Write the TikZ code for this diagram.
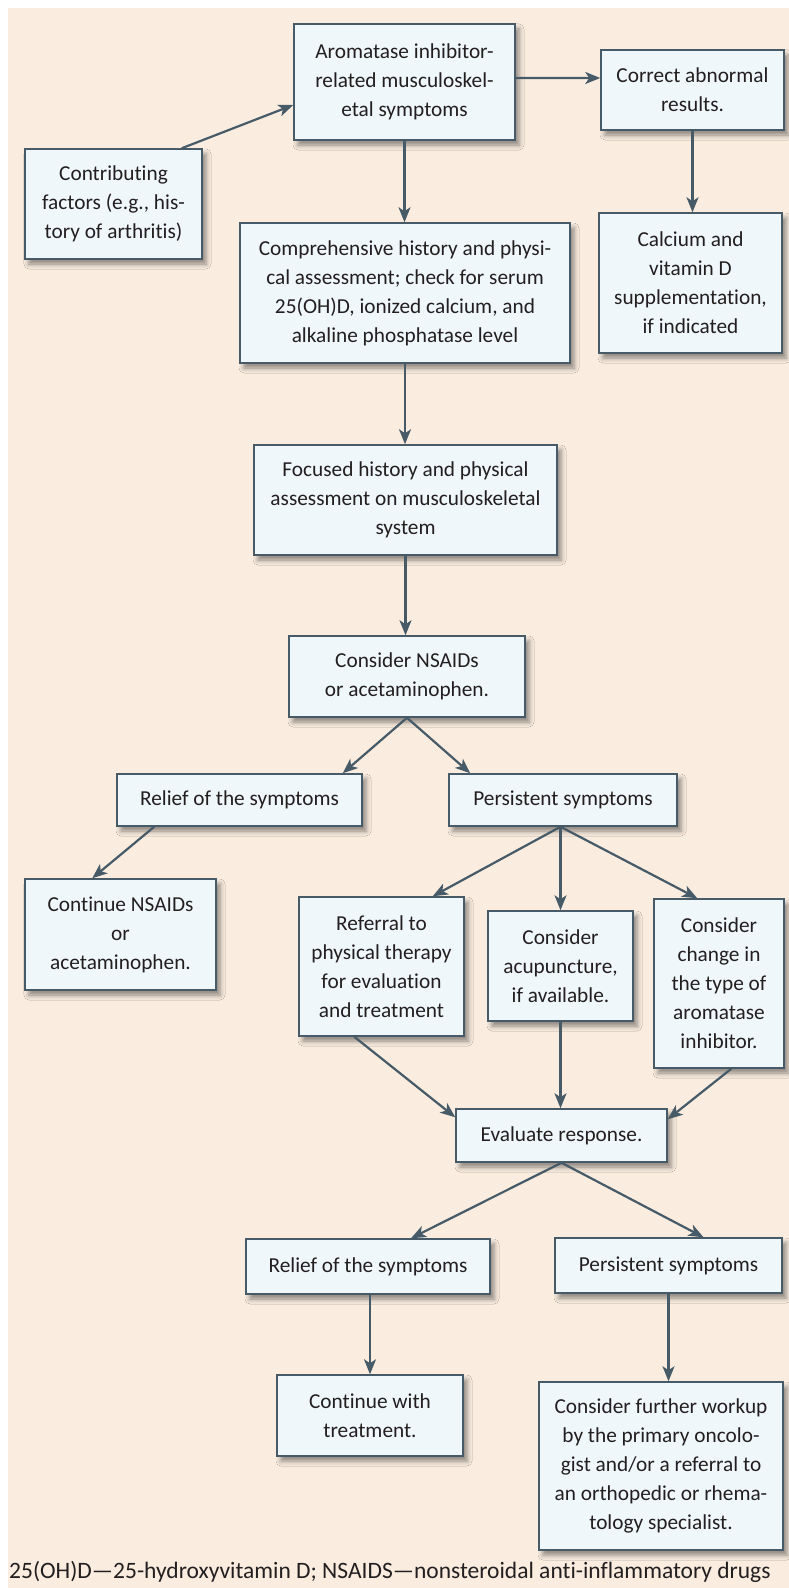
\documentclass[tikz,border=0pt]{standalone}
\usepackage{fontspec}
\setmainfont{Carlito}[Ligatures={TeX,NoCommon}]
\usetikzlibrary{arrows.meta,shadows.blur}
\definecolor{paper}{HTML}{FAEDE0}
\definecolor{boxfill}{HTML}{EFF7FB}
\definecolor{slate}{HTML}{475A67}
\definecolor{ink}{HTML}{231F20}
\begin{document}
\begin{tikzpicture}[x=1bp, y=-1bp, >={Stealth[length=15bp,width=12bp,inset=4bp]},
  txt/.style={font=\fontsize{21.3bp}{29bp}\selectfont, text=ink},
  box/.style={txt, draw=slate, line width=1.5bp, fill=boxfill, align=center, inner sep=0pt,
    blur shadow={shadow xshift=4bp, shadow yshift=-5bp, shadow blur radius=5bp, shadow opacity=45}},
  wh/.style 2 args={minimum width=#1bp, minimum height=#2bp},
  arr/.style={->, draw=slate, line width=2.2bp}]

 \useasboundingbox (0,0) rectangle (789,1588);
 \fill[paper] (8,8) rectangle (789,1588);

 \node[box, wh={221}{116}] (aroma) at (404.5,82) {Aromatase inhibitor-\\related musculoskel-\\etal symptoms};
 \node[box, wh={183}{80}] (correct) at (692.5,90) {Correct abnormal\\results.};
 \node[box, wh={183}{140}] (calcium) at (690.5,283) {Calcium and\\vitamin D\\supplementation,\\if indicated};
 \node[box, wh={177}{110}] (factors) at (113.5,204) {Contributing\\factors (e.g., his-\\tory of arthritis)};
 \node[box, wh={330}{140}] (history) at (405,293) {Comprehensive history and physi-\\cal assessment; check for serum\\25(OH)D, ionized calcium, and\\alkaline phosphatase level};
 \node[box, wh={303}{110}] (focused) at (405.5,500) {Focused history and physical\\assessment on musculoskeletal\\system};
 \node[box, wh={236}{81}] (nsaid) at (407,676.5) {Consider NSAIDs\\or acetaminophen.};
 \node[box, wh={245}{52}] (relief) at (239.5,800) {Relief of the symptoms};
 \node[box, wh={228}{52}] (persist) at (563,800) {Persistent symptoms};
 \node[box, wh={191}{111}] (keepnsaid) at (120.5,934.5) {Continue NSAIDs\\or\\acetaminophen.};
 \node[box, wh={165}{139}] (physio) at (381.5,966.5) {Referral to\\physical therapy\\for evaluation\\and treatment};
 \node[box, wh={145}{110}] (acu) at (560.5,966) {Consider\\acupuncture,\\if available.};
 \node[box, wh={130}{169}] (switch) at (719,983.5) {Consider\\change in\\the type of\\aromatase\\inhibitor.};
 \node[box, wh={211}{53}] (evaluate) at (561.5,1135.5) {Evaluate response.};
 \node[box, wh={244}{55}] (relieftwo) at (368,1266.5) {Relief of the symptoms};
 \node[box, wh={227}{55}] (persisttwo) at (668.5,1265.5) {Persistent symptoms};
 \node[box, wh={186}{81}] (keeptreat) at (370,1415.5) {Continue with\\treatment.};
 \node[box, wh={244}{168}] (workup) at (661,1466) {Consider further workup\\by the primary oncolo-\\gist and/or a referral to\\an orthopedic or rhema-\\tology specialist.};

 \node[txt, font=\fontsize{23.5bp}{29bp}\selectfont, anchor=west, inner sep=0pt] (abbrev) at (9,1572) {25(OH)D---25-hydroxyvitamin D; NSAIDS---nonsteroidal anti-inflammatory drugs};

 \draw[arr] ([xshift=-21bp]factors.north east) -- ([yshift=-23bp]aroma.west);
 \draw[arr] ([yshift=4bp]aroma.east) -- ([yshift=12bp]correct.west);
 \draw[arr] (correct.south) -- (correct.south |- calcium.north);
 \draw[arr] (aroma.south) -- (aroma.south |- history.north);
 \draw[arr] (history.south) -- (history.south |- focused.north);
 \draw[arr] (focused.south) -- (focused.south |- nsaid.north);
 \draw[arr] (nsaid.south) -- ([xshift=-20bp]relief.north east);
 \draw[arr] (nsaid.south) -- ([xshift=22bp]persist.north west);
 \draw[arr] ([xshift=38bp]relief.south west) -- ([xshift=68bp]keepnsaid.north west);
 \draw[arr] (acu.north |- persist.south) -- ([xshift=-32bp]physio.north east);
 \draw[arr] (acu.north |- persist.south) -- (acu.north);
 \draw[arr] (acu.north |- persist.south) -- ([xshift=44bp]switch.north west);
 \draw[arr] ([xshift=56bp]physio.south west) -- ([yshift=-9bp]evaluate.north west);
 \draw[arr] (acu.south) -- (acu.south |- evaluate.north);
 \draw[arr] ([xshift=78bp]switch.south west) -- ([yshift=-11bp]evaluate.north east);
 \draw[arr] (evaluate.south) -- ([xshift=43bp]relieftwo.north);
 \draw[arr] (evaluate.south) -- ([xshift=35bp]persisttwo.north);
 \draw[arr] (keeptreat.north |- relieftwo.south) -- (keeptreat.north);
 \draw[arr] (persisttwo.south) -- (persisttwo.south |- workup.north);

\end{tikzpicture}
\end{document}
